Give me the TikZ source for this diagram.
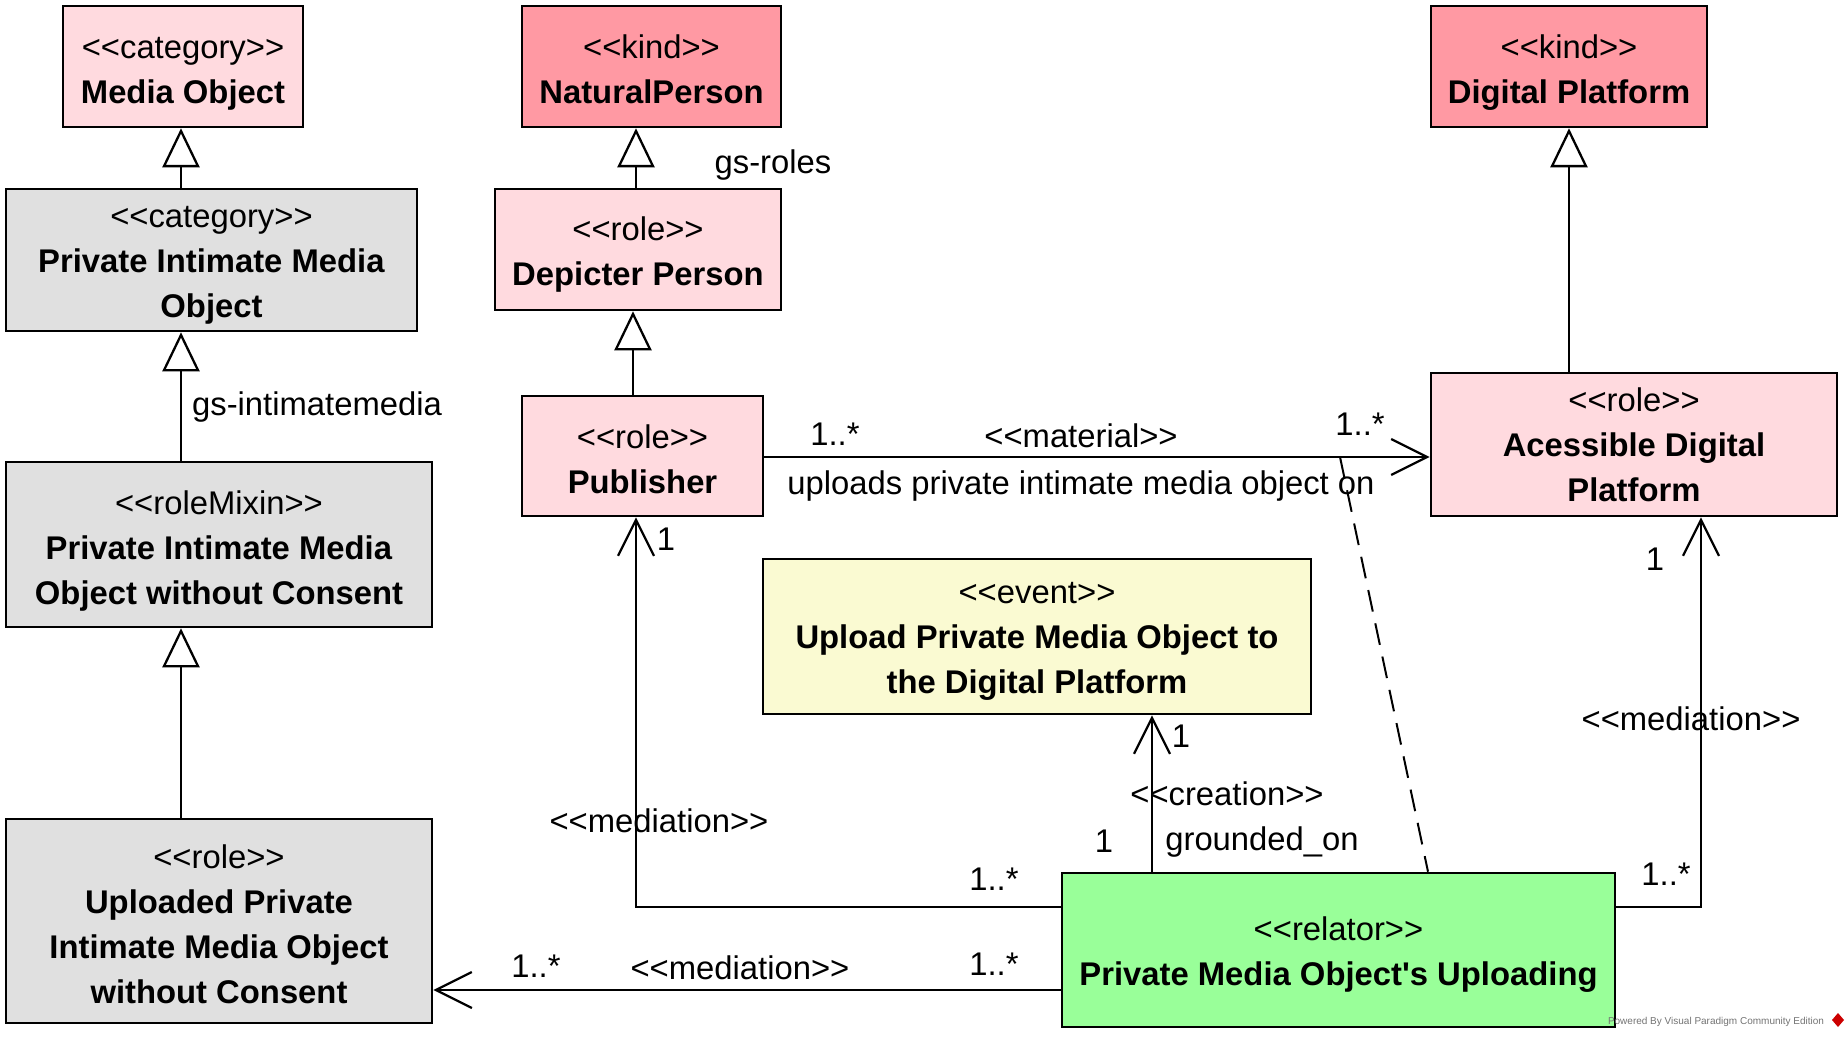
\documentclass[tikz,border=0pt]{standalone}
\usepackage{fontspec}
\setmainfont{Liberation Sans}[Ligatures=TeXOff]
\usetikzlibrary{arrows.meta}
\definecolor{kindc}{RGB}{255,153,163}
\definecolor{rolec}{RGB}{255,218,223}
\definecolor{grayc}{RGB}{224,224,224}
\definecolor{eventc}{RGB}{250,250,210}
\definecolor{relc}{RGB}{153,255,153}
\newcommand\fsz{\fontsize{16.4}{22.5}\selectfont}
% #1 = height of the top strut (15pt + 2 x downward shift)
\newcommand\bx[2]{\rule{0pt}{#1}#2\rule[-5pt]{0pt}{5pt}}
\tikzset{
  box/.style={draw, line width=1.3pt, inner sep=0pt, align=center, font=\fsz},
  lbl/.style={inner sep=0pt, font=\fsz, text height=14pt, text depth=2pt},
  gen/.style={line width=1.15pt, -{Triangle[open,length=19.5pt,width=18.5pt,line width=1.15pt]}},
  assoc/.style={line width=1.15pt, -{Straight Barb[length=18pt,width=18pt,line width=1.15pt]}},
  dep/.style={line width=1pt, dash pattern=on 11pt off 6pt}
}
\begin{document}
\begin{tikzpicture}[x=0.5pt,y=-0.5pt]
\useasboundingbox (0,0) rectangle (1848,1038);
% boxes
\node[box, fill=rolec, minimum width=120pt, minimum height=60.5pt] (MO) at (183,66.5) {\bx{19.8pt}{<<category>>\\\textbf{Media Object}}};
\node[box, fill=kindc, minimum width=129.5pt, minimum height=60.5pt] (NP) at (651.5,66.5) {\bx{19.8pt}{<<kind>>\\\textbf{NaturalPerson}}};
\node[box, fill=kindc, minimum width=138pt, minimum height=60.5pt] (DP) at (1569,66.5) {\bx{19.8pt}{<<kind>>\\\textbf{Digital Platform}}};
\node[box, fill=grayc, minimum width=205.5pt, minimum height=71pt] (PIMO) at (211.5,260) {\bx{17.4pt}{<<category>>\\\textbf{Private Intimate Media}\\\textbf{Object}}};
\node[box, fill=rolec, minimum width=143pt, minimum height=60.5pt] (DPer) at (638,249.5) {\bx{18pt}{<<role>>\\\textbf{Depicter Person}}};
\node[box, fill=grayc, minimum width=213pt, minimum height=82.5pt] (RM) at (219,544.5) {\bx{19.8pt}{<<roleMixin>>\\\textbf{Private Intimate Media}\\\textbf{Object without Consent}}};
\node[box, fill=rolec, minimum width=120.5pt, minimum height=60pt] (Pub) at (642.5,456) {\bx{19.8pt}{<<role>>\\\textbf{Publisher}}};
\node[box, fill=rolec, minimum width=203pt, minimum height=71.5pt] (ADP) at (1634,444.5) {\bx{17.4pt}{<<role>>\\\textbf{Acessible Digital}\\\textbf{Platform}}};
\node[box, fill=eventc, minimum width=274pt, minimum height=77.5pt] (EV) at (1037,636.5) {\bx{17.4pt}{<<event>>\\\textbf{Upload Private Media Object to}\\\textbf{the Digital Platform}}};
\node[box, fill=relc, minimum width=276.5pt, minimum height=77pt] (REL) at (1338.5,950) {\bx{18pt}{<<relator>>\\\textbf{Private Media Object's Uploading}}};
\node[box, fill=grayc, minimum width=213pt, minimum height=102pt] (UP) at (219,921) {\bx{19.5pt}{<<role>>\\\textbf{Uploaded Private}\\\textbf{Intimate Media Object}\\\textbf{without Consent}}};
% helper coordinates
\coordinate (x181) at (181,0);
\coordinate (x636) at (636,0);
\coordinate (x633) at (633,0);
\coordinate (x1569) at (1569,0);
\coordinate (x1152) at (1152,0);
\coordinate (x1701) at (1701,0);
\coordinate (x1428) at (1428,0);
\coordinate (y457) at (0,457);
\coordinate (y907) at (0,907);
\coordinate (y990) at (0,990);
\coordinate (dm) at (1340,457);
% generalizations
\draw[gen] (PIMO.north -| x181) -- (MO.south -| x181);
\draw[gen] (RM.north -| x181) -- (PIMO.south -| x181);
\draw[gen] (UP.north -| x181) -- (RM.south -| x181);
\draw[gen] (DPer.north -| x636) -- (NP.south -| x636);
\draw[gen] (Pub.north -| x633) -- (DPer.south -| x633);
\draw[gen] (ADP.north -| x1569) -- (DP.south -| x1569);
% associations
\draw[assoc] (Pub.east |- y457) -- (ADP.west |- y457);
\draw[dep] (dm) -- (REL.north -| x1428);
\draw[assoc] (REL.west |- y907) -| (Pub.south -| x636);
\draw[assoc] (REL.west |- y990) -- (UP.east |- y990);
\draw[assoc] (REL.north -| x1152) -- (EV.south -| x1152);
\draw[assoc] (REL.east |- y907) -| (ADP.south -| x1701);
% labels
\node[lbl] (l1) at (317,403) {gs-intimatemedia};
\node[lbl] (l2) at (773,162) {gs-roles};
\node[lbl] (l3) at (835,433) {1..*};
\node[lbl] (l4) at (1081,435) {<<material>>};
\node[lbl] (l5) at (1360,423) {1..*};
\node[lbl] (l6) at (1081,482) {uploads private intimate media object on};
\node[lbl] (l7) at (666,538) {1};
\node[lbl] (l8) at (659,820) {<<mediation>>};
\node[lbl] (l9) at (994,878) {1..*};
\node[lbl] (l10) at (536,965) {1..*};
\node[lbl] (l11) at (740,967) {<<mediation>>};
\node[lbl] (l12) at (994,963) {1..*};
\node[lbl] (l13) at (1181,735) {1};
\node[lbl] (l14) at (1227,793) {<<creation>>};
\node[lbl] (l15) at (1104,840) {1};
\node[lbl] (l16) at (1262,838) {grounded\_on};
\node[lbl] (l17) at (1655,558) {1};
\node[lbl] (l18) at (1691,718) {<<mediation>>};
\node[lbl] (l19) at (1666,873) {1..*};
% watermark
\node[inner sep=0pt, font=\fontsize{5}{6}\selectfont, text=black!55] (wm) at (1716,1022) {Powered By Visual Paradigm Community Edition};
\fill[red!80!black] (1838,1013) -- (1844,1020) -- (1838,1027) -- (1832,1020) -- cycle;
\end{tikzpicture}
\end{document}
